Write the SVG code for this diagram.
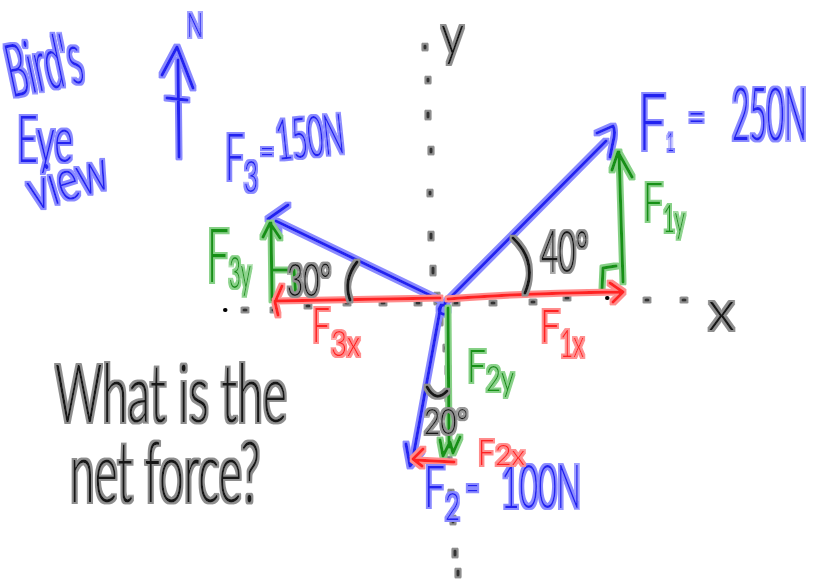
<svg xmlns="http://www.w3.org/2000/svg" width="817" height="581" viewBox="0 0 817 581">
<defs>
<filter id="gB" filterUnits="userSpaceOnUse" x="0" y="0" width="817" height="581"><feMorphology in="SourceAlpha" operator="dilate" radius="2.2" result="d"/><feGaussianBlur in="d" stdDeviation="0.7" result="b"/><feFlood flood-color="#8a8aff"/><feComposite in2="b" operator="in" result="h"/><feMerge><feMergeNode in="h"/><feMergeNode in="SourceGraphic"/></feMerge></filter>
<filter id="gG" filterUnits="userSpaceOnUse" x="0" y="0" width="817" height="581"><feMorphology in="SourceAlpha" operator="dilate" radius="2.2" result="d"/><feGaussianBlur in="d" stdDeviation="0.7" result="b"/><feFlood flood-color="#86d086"/><feComposite in2="b" operator="in" result="h"/><feMerge><feMergeNode in="h"/><feMergeNode in="SourceGraphic"/></feMerge></filter>
<filter id="gR" filterUnits="userSpaceOnUse" x="0" y="0" width="817" height="581"><feMorphology in="SourceAlpha" operator="dilate" radius="2.2" result="d"/><feGaussianBlur in="d" stdDeviation="0.7" result="b"/><feFlood flood-color="#ff8c8c"/><feComposite in2="b" operator="in" result="h"/><feMerge><feMergeNode in="h"/><feMergeNode in="SourceGraphic"/></feMerge></filter>
<filter id="gK" filterUnits="userSpaceOnUse" x="0" y="0" width="817" height="581"><feMorphology in="SourceAlpha" operator="dilate" radius="2.2" result="d"/><feGaussianBlur in="d" stdDeviation="0.7" result="b"/><feFlood flood-color="#8e8e8e"/><feComposite in2="b" operator="in" result="h"/><feMerge><feMergeNode in="h"/><feMergeNode in="SourceGraphic"/></feMerge></filter>
</defs>
<style>
text{font-family:"Lato","Open Sans","Liberation Sans",sans-serif;font-weight:300}
path{fill:none;stroke-width:3;stroke-linecap:round;stroke-linejoin:round}
.b{filter:url(#gB)} .b path{stroke:#2020f0} .b text{fill:#2020f0}
.g{filter:url(#gG)} .g path{stroke:#179017} .g text{fill:#179017}
.r{filter:url(#gR)} .r path{stroke:#ff2020} .r text{fill:#ff2020}
.k{filter:url(#gK)} .k path{stroke:#151515} .k text{fill:#151515}
.k path.dot{stroke:#333;stroke-width:3.2}
path.bd{stroke:#000;stroke-width:4}
</style>
<rect width="817" height="581" fill="#fff"/>

<g id="axes">
 <g class="k" id="axis-dots">
  <path class="dot" d="M425,46v2M428,79v2M428,113v4M431,149v3M430,192v2M431,234v4M433,268v5M437,295v7M440,320v3M446,347v2M448,368v4M448,396v3M449,459v2M451,492v2M453,518v4M455,551v4M458,571v4"/>
  <path class="dot" d="M244,310h2M273,310h2M307,306h2M346,303h2M382,303h2M417,303h2M455,303h2M492,303h2M532,302h2M566,298h2M646,300h2M683,300h2"/>
 </g>
 <path class="bd" d="M225,310h0.5M607,298h0.5"/>
 <g class="k" id="axis-labels">
  <text x="441" y="54" font-size="56" textLength="23" lengthAdjust="spacingAndGlyphs">y</text>
  <text x="708" y="330" font-size="56" textLength="27" lengthAdjust="spacingAndGlyphs">x</text>
 </g>
</g>

<g id="title" class="b">
 <text transform="rotate(-12 14 97)" x="12" y="97" font-size="74" textLength="76" lengthAdjust="spacingAndGlyphs">Bird's</text>
 <text x="17" y="162" font-size="66" textLength="56" lengthAdjust="spacingAndGlyphs">Eye</text>
 <text transform="rotate(-17 34 211)" x="34" y="211" font-size="58" textLength="82" lengthAdjust="spacingAndGlyphs">view</text>
</g>

<g id="north" class="b">
 <path d="M178,60 L179,157 M162,75 L177,47 L193,88 M167,98 L187,100"/>
 <text x="187" y="37" font-size="34" textLength="16" lengthAdjust="spacingAndGlyphs">N</text>
</g>

<g id="connectors">
 <g class="b" id="vectors">
  <path d="M445,303 L606,141 M597,133 L613,126 Q616,131 613,142 L610,157"/>
  <path d="M440,300 L276,221 M288,205 L268,219 L279,231"/>
  <path d="M441,305 L412,463 M406,444 L410,466 L422,451"/>
  <path d="M440,307 a4.5,4.5 0 1 0 1,-1"/>
 </g>
 <g class="g" id="y-components">
  <path d="M623,282 L619,152 M612,170 L618,152 L632,177 M602,290 L603,268 L616,266"/>
  <path d="M272,300 L271,223 M263,237 L270,223 L280,238 M273,270 L294,270 L296,298"/>
  <path d="M448,308 L449,447 M440,440 L443,456 L450,442 L453,453 L460,437"/>
 </g>
 <g class="r" id="x-components">
  <path d="M448,299 Q520,293 622,292 M610,283 L623,292 L613,302"/>
  <path d="M440,298 L275,301 M282,286 L275,302 L278,315"/>
  <path d="M454,462 L415,460 M423,449 L413,459 L422,466"/>
 </g>
 <g class="k" id="angle-arcs">
  <path d="M357,262 Q343,280 350,300"/>
  <path d="M513,238 Q538,262 525,293"/>
  <path d="M427,387 Q436,403 447,391"/>
 </g>
</g>

<g id="F1" class="b">
 <text font-size="78"><tspan x="638" y="150" textLength="28" lengthAdjust="spacingAndGlyphs">F</tspan><tspan x="667" y="151" font-size="26" textLength="7" lengthAdjust="spacingAndGlyphs">1</tspan><tspan x="688" y="133" font-size="48" textLength="17" lengthAdjust="spacingAndGlyphs">=</tspan><tspan x="732" y="140" font-size="72" textLength="75" lengthAdjust="spacingAndGlyphs">250N</tspan></text>
</g>
<g id="F3" class="b">
 <text font-size="66"><tspan x="225" y="180" textLength="19" lengthAdjust="spacingAndGlyphs">F</tspan><tspan x="244" y="192" font-size="44" textLength="14" lengthAdjust="spacingAndGlyphs">3</tspan><tspan x="260" y="164" font-size="38" textLength="14" lengthAdjust="spacingAndGlyphs">=</tspan></text>
 <text transform="rotate(-6 278 160)" x="278" y="160" font-size="56" textLength="68" lengthAdjust="spacingAndGlyphs">150N</text>
</g>
<g id="F2" class="b">
 <text font-size="58"><tspan x="424" y="507" textLength="21" lengthAdjust="spacingAndGlyphs">F</tspan><tspan x="445" y="520" font-size="38" textLength="15" lengthAdjust="spacingAndGlyphs">2</tspan><tspan x="466" y="499" font-size="34" textLength="13" lengthAdjust="spacingAndGlyphs">=</tspan><tspan x="501" y="508" font-size="62" textLength="80" lengthAdjust="spacingAndGlyphs">100N</tspan></text>
</g>

<g id="F1y" class="g">
 <text font-size="53"><tspan x="643" y="221" textLength="20" lengthAdjust="spacingAndGlyphs">F</tspan><tspan x="663" y="232" font-size="38" textLength="22" lengthAdjust="spacingAndGlyphs">1y</tspan></text>
</g>
<g id="F3y" class="g">
 <text font-size="74"><tspan x="207" y="282" textLength="22" lengthAdjust="spacingAndGlyphs">F</tspan><tspan x="229" y="288" font-size="44" textLength="22" lengthAdjust="spacingAndGlyphs">3y</tspan></text>
</g>
<g id="F2y" class="g">
 <text font-size="46"><tspan x="467" y="382" textLength="19" lengthAdjust="spacingAndGlyphs">F</tspan><tspan x="486" y="391" font-size="36" textLength="28" lengthAdjust="spacingAndGlyphs">2y</tspan></text>
</g>
<g id="F1x" class="r">
 <text font-size="46"><tspan x="540" y="342" textLength="20" lengthAdjust="spacingAndGlyphs">F</tspan><tspan x="560" y="357" font-size="38" textLength="24" lengthAdjust="spacingAndGlyphs">1x</tspan></text>
</g>
<g id="F3x" class="r">
 <text font-size="48"><tspan x="312" y="342" textLength="18" lengthAdjust="spacingAndGlyphs">F</tspan><tspan x="331" y="356" font-size="36" textLength="29" lengthAdjust="spacingAndGlyphs">3x</tspan></text>
</g>
<g id="F2x" class="r">
 <text font-size="36"><tspan x="478" y="465" textLength="16" lengthAdjust="spacingAndGlyphs">F</tspan><tspan x="495" y="465" font-size="28" textLength="30" lengthAdjust="spacingAndGlyphs">2x</tspan></text>
</g>

<g id="angles" class="k">
 <text x="287" y="296" font-size="46" textLength="44" lengthAdjust="spacingAndGlyphs">30°</text>
 <text x="541" y="272" font-size="58" textLength="47" lengthAdjust="spacingAndGlyphs">40°</text>
 <text x="424" y="434" font-size="36" textLength="44" lengthAdjust="spacingAndGlyphs">20°</text>
</g>

<g id="question" class="k">
 <text x="55" y="422" font-size="80" textLength="232" lengthAdjust="spacingAndGlyphs">What is the</text>
 <text x="70" y="502" font-size="84" textLength="190" lengthAdjust="spacingAndGlyphs">net force?</text>
</g>
</svg>
